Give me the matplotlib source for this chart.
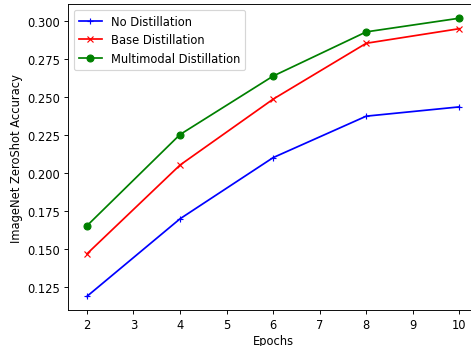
import matplotlib
matplotlib.use("Agg")
import matplotlib.pyplot as plt

epochs = [2, 4, 6, 8, 10]
no_distill = [0.1188, 0.1699, 0.2102, 0.2375, 0.2436]
base_distill = [0.1468, 0.2053, 0.2487, 0.2855, 0.2951]
multimodal_distill = [0.1653, 0.2254, 0.2639, 0.2930, 0.3020]

DPI = 83
fig = plt.figure(figsize=(471 / DPI, 347 / DPI), dpi=DPI)
W, H = 471, 347
left, right, top, bottom = 68.3, 478.0, 5.3, 311.3
ax = fig.add_axes([left / W, 1 - bottom / H, (right - left) / W, (bottom - top) / H])

ax.plot(epochs, no_distill, color="blue", marker="+", label="No Distillation")
ax.plot(epochs, base_distill, color="red", marker="x", label="Base Distillation")
ax.plot(epochs, multimodal_distill, color="green", marker="o", label="Multimodal Distillation")

ax.set_xlabel("Epochs", labelpad=2.0)
ax.set_ylabel("ImageNet ZeroShot Accuracy")
ax.legend(loc="upper left")

fig.savefig("out.png", dpi=DPI)
